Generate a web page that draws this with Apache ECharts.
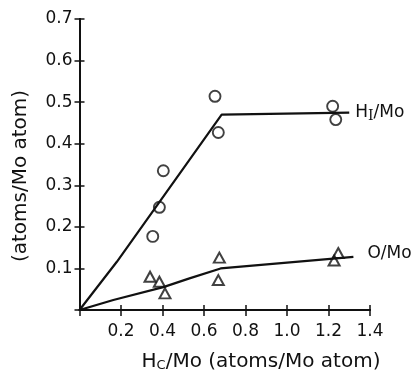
<!DOCTYPE html>
<html><head><meta charset="utf-8">
<script src="https://cdn.jsdelivr.net/npm/echarts@6/dist/echarts.min.js"></script>
<style>html,body{margin:0;padding:0;background:#fff}#c{width:417px;height:372px}</style>
</head><body><div id="c"></div>
<script>
// Data
const hiPoints = [[0.353,0.177],[0.385,0.247],[0.404,0.335],[0.653,0.514],[0.669,0.427],[1.22,0.49],[1.235,0.458]];
const hiLine = [[0,0],[0.18,0.116],[0.685,0.47],[1.30,0.475]];
const oPoints = [[0.34,0.080],[0.385,0.068],[0.412,0.040],[0.674,0.126],[0.669,0.072],[1.247,0.137],[1.227,0.119]];
const oLine = [[0,0],[0.163,0.024],[0.404,0.055],[0.53,0.076],[0.68,0.10],[1.32,0.128]];
const xTicks = [0.2,0.4,0.6,0.8,1.0,1.2,1.4];
const yTicks = [0.1,0.2,0.3,0.4,0.5,0.6,0.7];

const ink = '#111';
const font = 'DejaVu Sans, Verdana, sans-serif';
const chart = echarts.init(document.getElementById('c'));
const fmtX = v => xTicks.some(t => Math.abs(t - v) < 1e-6) ? v.toFixed(1) : '';
const fmtY = v => yTicks.some(t => Math.abs(t - v) < 1e-6) ? v.toFixed(1) : '';
const baseX = {type:'value', min:0, max:1.4, interval:0.2, splitLine:{show:false},
  axisLine:{show:true, onZero:false, lineStyle:{color:ink, width:2}}};
const baseY = {type:'value', min:0, max:0.7, interval:0.1, splitLine:{show:false},
  axisLine:{show:true, onZero:false, lineStyle:{color:ink, width:2}}};
chart.setOption({
  animation:false,
  grid:{left:79.5, right:47, top:19, bottom:62},
  xAxis:[
    Object.assign({}, baseX, {position:'bottom',
      axisTick:{show:true, length:6, lineStyle:{color:ink, width:1.5}},
      axisLabel:{color:ink, fontSize:17, fontFamily:font, margin:13, formatter:fmtX}}),
    Object.assign({}, baseX, {position:'bottom',
      axisTick:{show:true, inside:true, length:5, lineStyle:{color:ink, width:1.5}},
      axisLabel:{show:false}})
  ],
  yAxis:[
    Object.assign({}, baseY, {position:'left',
      axisTick:{show:true, length:5, lineStyle:{color:ink, width:1.5}},
      axisLabel:{color:ink, fontSize:17, fontFamily:font, margin:7, formatter:fmtY}}),
    Object.assign({}, baseY, {position:'left',
      axisTick:{show:true, inside:true, length:5, lineStyle:{color:ink, width:1.5}},
      axisLabel:{show:false}})
  ],
  graphic:[
    {type:'text', x:261, y:362, style:{text:'H{sub|C}/Mo (atoms/Mo atom)', fill:ink,
      font:'20px ' + font, textAlign:'center', textVerticalAlign:'middle',
      rich:{sub:{fontSize:13, fontFamily:font, fill:ink, color:ink, verticalAlign:'bottom', padding:[7,0,0,0]}}}},
    {type:'text', x:21, y:176, rotation:Math.PI/2, style:{text:'(atoms/Mo atom)', fill:ink,
      font:'20px ' + font, textAlign:'center', textVerticalAlign:'middle'}}
  ],
  series:[
    {type:'line', data:hiLine, symbol:'none', lineStyle:{color:ink, width:2.2},
      endLabel:{show:true, formatter:'H{sub|I}/Mo', color:ink, fontSize:17, fontFamily:font, distance:6,
        rich:{sub:{fontSize:14, fontFamily:'DejaVu Serif, serif', color:ink, verticalAlign:'bottom', padding:[8,0,0,0]}}}},
    {type:'line', data:oLine, symbol:'none', lineStyle:{color:ink, width:2.2},
      endLabel:{show:true, formatter:'O/Mo', color:ink, fontSize:17, fontFamily:font, distance:14, offset:[0,-3]}},
    {type:'scatter', data:hiPoints, symbol:'circle', symbolSize:11,
      itemStyle:{color:'rgba(255,255,255,0)', borderColor:ink, borderWidth:1.9}},
    {type:'scatter', data:oPoints, symbol:'triangle', symbolSize:[11,10],
      itemStyle:{color:'rgba(255,255,255,0)', borderColor:ink, borderWidth:2}}
  ]
});
</script></body></html>
